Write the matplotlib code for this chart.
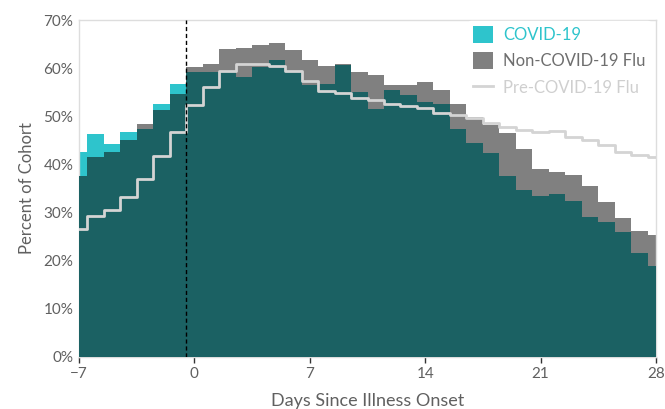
import matplotlib
matplotlib.use("Agg")
import matplotlib.pyplot as plt
import numpy as np
from matplotlib.patches import Patch
from matplotlib.lines import Line2D

days = list(range(-7, 29))
covid = [42.5, 46.3, 44.2, 46.8, 47.3, 52.5, 56.8, 59.1, 59.1, 59.3, 58.2, 60.3, 61.6, 59.1,
         56.5, 56.8, 60.6, 55.1, 51.6, 55.5, 54.4, 53.0, 52.5, 47.3, 44.4, 42.4, 37.7, 34.7,
         33.4, 33.8, 32.5, 29.0, 28.1, 25.9, 21.5, 19.0]
flu = [37.7, 41.6, 42.6, 45.1, 48.5, 51.4, 54.6, 60.2, 60.9, 64.0, 64.1, 64.9, 65.3, 63.8,
       61.6, 60.5, 60.8, 59.2, 58.6, 56.6, 56.5, 57.2, 55.5, 52.5, 49.9, 48.2, 46.5, 43.2,
       39.0, 38.5, 37.8, 35.5, 32.1, 28.9, 26.2, 25.3]
pre = [26.6, 29.3, 30.5, 33.2, 37.0, 41.7, 46.8, 52.3, 56.1, 59.4, 60.9, 60.9, 60.4, 59.5,
       57.4, 55.2, 54.9, 53.9, 53.3, 52.5, 52.2, 51.7, 50.7, 50.2, 49.6, 48.6, 47.8, 47.1,
       46.8, 47.0, 45.8, 45.1, 44.0, 42.6, 42.0, 41.5]
xticks = [-7, 0, 7, 14, 21, 28]
yticks = [0, 10, 20, 30, 40, 50, 60, 70]

C_COVID = "#2ec4cc"
C_FLU = "#808080"
C_BOTH = "#1b6163"
C_PRE = "#d4d4d4"
C_TEXT = "#606060"

plt.rcParams['font.family'] = ['Lato', 'DejaVu Sans']

fig = plt.figure(figsize=(6.65, 4.09), dpi=100)
ax = fig.add_axes([79/665, 1-357/409, (656-79)/665, (357-20)/409])

x = np.array(days, dtype=float)
cv = np.array(covid)
fl = np.array(flu)
both = np.minimum(cv, fl)

ax.fill_between(x, 0, cv, step='mid', color=C_COVID, linewidth=0, zorder=1)
ax.fill_between(x, 0, fl, step='mid', color=C_FLU, linewidth=0, zorder=2)
ax.fill_between(x, 0, both, step='mid', color=C_BOTH, linewidth=0, zorder=3)
ax.plot(x, pre, drawstyle='steps-mid', color=C_PRE, lw=2, zorder=4)
ax.axvline(-0.5, color='black', ls=(0, (3, 2)), lw=1, zorder=5)

ax.set_xlim(-7, 28)
ax.set_ylim(0, 70)
ax.set_xticks(xticks)
ax.set_xticklabels([("\u2212%d" % -t) if t < 0 else str(t) for t in xticks])
ax.set_yticks(yticks)
ax.set_yticklabels(["%d%%" % t for t in yticks])
ax.tick_params(axis='y', length=0, pad=4, labelsize=11, labelcolor=C_TEXT)
ax.tick_params(axis='x', length=4, width=1, color='#333333', pad=3, labelsize=11, labelcolor=C_TEXT)
for s in ax.spines.values():
    s.set_color('#dddddd')
    s.set_linewidth(1)

ax.set_ylabel("Percent of Cohort", fontsize=12, color=C_TEXT, labelpad=6)
ax.set_xlabel("Days Since Illness Onset", fontsize=13, color=C_TEXT, labelpad=9)

handles = [Patch(facecolor=C_COVID, edgecolor='none'),
           Patch(facecolor=C_FLU, edgecolor='none'),
           Line2D([0], [0], color=C_PRE, lw=2)]
leg = ax.legend(handles, ["COVID-19", "Non-COVID-19 Flu", "Pre-COVID-19 Flu"],
                loc='upper left', bbox_to_anchor=(468/665, 1-21/409), bbox_transform=fig.transFigure,
                frameon=True, facecolor='white', edgecolor='white', framealpha=1,
                fontsize=12, handlelength=1.2, handleheight=1.2, handletextpad=0.6,
                labelspacing=0.55, borderpad=0.3, borderaxespad=0)
leg.set_zorder(10)
for t, c in zip(leg.get_texts(), [C_COVID, "#6e6e6e", "#cfcfcf"]):
    t.set_color(c)

fig.savefig("out.png", dpi=100)
